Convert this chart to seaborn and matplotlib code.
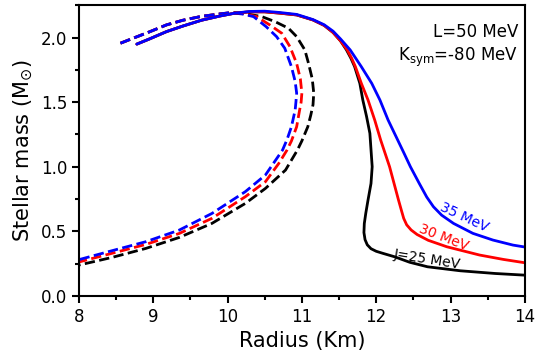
import numpy as np
import pandas as pd
import seaborn as sns
import matplotlib
matplotlib.use('Agg')
import matplotlib.pyplot as plt
from matplotlib.ticker import MultipleLocator

# solid curves (J = 25, 30, 35 MeV)
r_j25 = [8.78, 8.95, 9.18, 9.4, 9.65, 9.9, 10.1, 10.3, 10.5, 10.7, 10.93, 11.15, 11.3, 11.42,
         11.52, 11.6, 11.66, 11.71, 11.78, 11.82, 11.87, 11.915, 11.946, 11.93, 11.89, 11.86,
         11.84, 11.835, 11.85, 11.88, 11.93, 12.0, 12.09, 12.25, 12.45, 12.69, 13.13, 13.6, 14.0]
m_j25 = [1.95, 1.99, 2.047, 2.09, 2.135, 2.168, 2.19, 2.2, 2.2, 2.19, 2.176, 2.137, 2.095, 2.04,
         1.975, 1.905, 1.84, 1.775, 1.646, 1.517, 1.39, 1.259, 1.0, 0.87, 0.742, 0.64,
         0.56, 0.49, 0.435, 0.395, 0.365, 0.345, 0.329, 0.302, 0.26, 0.225, 0.194, 0.173, 0.16]

r_j30 = [8.78, 8.95, 9.18, 9.4, 9.65, 9.9, 10.1, 10.3, 10.5, 10.7, 10.93, 11.15, 11.3, 11.42,
         11.52, 11.61, 11.67, 11.72, 11.8, 11.89, 11.98, 12.06, 12.18, 12.3, 12.34, 12.37,
         12.41, 12.47, 12.55, 12.7, 12.95, 13.39, 13.71, 14.0]
m_j30 = [1.95, 1.99, 2.047, 2.09, 2.135, 2.168, 2.19, 2.2, 2.2, 2.19, 2.176, 2.137, 2.095, 2.04,
         1.975, 1.905, 1.84, 1.775, 1.646, 1.517, 1.362, 1.207, 1.0, 0.742, 0.66, 0.6,
         0.55, 0.51, 0.475, 0.43, 0.38, 0.316, 0.282, 0.256]

r_j35 = [8.78, 8.95, 9.18, 9.4, 9.65, 9.9, 10.1, 10.3, 10.5, 10.7, 10.93, 11.15, 11.3, 11.42,
         11.52, 11.65, 11.8, 11.94, 12.05, 12.16, 12.27, 12.37, 12.46, 12.58, 12.68, 12.77,
         12.88, 13.04, 13.3, 13.57, 13.84, 14.0]
m_j35 = [1.95, 1.99, 2.047, 2.09, 2.135, 2.168, 2.19, 2.203, 2.205, 2.195, 2.18, 2.14, 2.1, 2.05,
         1.99, 1.905, 1.775, 1.646, 1.517, 1.362, 1.23, 1.11, 1.0, 0.87, 0.765, 0.69,
         0.625, 0.561, 0.484, 0.432, 0.393, 0.378]

# dashed curves
rd_j25 = [8.56, 8.75, 8.95, 9.18, 9.4, 9.65, 9.9, 10.07, 10.25, 10.46, 10.64, 10.82, 10.93,
          11.04, 11.09, 11.14, 11.16, 11.15, 11.12, 11.08, 11.0, 10.94, 10.78, 10.51, 10.24,
          9.79, 9.35, 8.9, 8.45, 8.0]
md_j25 = [1.957, 2.0, 2.045, 2.099, 2.135, 2.165, 2.184, 2.194, 2.185, 2.163, 2.124, 2.073, 2.008,
          1.905, 1.80, 1.68, 1.57, 1.48, 1.40, 1.31, 1.2, 1.129, 0.974, 0.832, 0.716,
          0.561, 0.452, 0.367, 0.298, 0.238]

rd_j30 = [8.56, 8.75, 8.95, 9.18, 9.4, 9.65, 9.9, 10.05, 10.22, 10.39, 10.57, 10.73, 10.84,
          10.93, 10.98, 11.0, 10.99, 10.97, 10.93, 10.86, 10.80, 10.69, 10.51, 10.24, 9.79,
          9.35, 8.9, 8.45, 8.0]
md_j30 = [1.957, 2.0, 2.045, 2.099, 2.135, 2.165, 2.184, 2.194, 2.185, 2.163, 2.098, 2.034, 1.93,
          1.80, 1.68, 1.57, 1.50, 1.44, 1.31, 1.2, 1.129, 1.026, 0.884, 0.768, 0.60,
          0.483, 0.398, 0.33, 0.262]

rd_j35 = [8.56, 8.75, 8.95, 9.18, 9.4, 9.65, 9.9, 10.03, 10.2, 10.35, 10.52, 10.66, 10.77,
          10.86, 10.91, 10.93, 10.92, 10.91, 10.86, 10.80, 10.74, 10.51, 10.24, 9.79, 9.35,
          8.9, 8.45, 8.0]
md_j35 = [1.957, 2.0, 2.045, 2.099, 2.135, 2.165, 2.184, 2.194, 2.183, 2.163, 2.085, 2.008, 1.918,
          1.775, 1.66, 1.57, 1.50, 1.44, 1.31, 1.21, 1.129, 0.936, 0.807, 0.638, 0.509,
          0.419, 0.35, 0.28]

labels = ['J=25 MeV', '30 MeV', '35 MeV']
colors = ['black', 'red', 'blue']

sns.set_style('ticks')
plt.rcParams['font.family'] = ['DejaVu Sans']
for k in ['text.color', 'axes.labelcolor', 'xtick.color', 'ytick.color', 'axes.edgecolor']:
    plt.rcParams[k] = 'black'

fig = plt.figure(figsize=(5.4, 3.59), dpi=100)
ax = fig.add_subplot(111)
fig.subplots_adjust(left=0.146, right=0.972, bottom=0.176, top=0.985)

dashed = [(rd_j25, md_j25), (rd_j30, md_j30), (rd_j35, md_j35)]
solid = [(r_j25, m_j25), (r_j30, m_j30), (r_j35, m_j35)]

for (r, m), c in zip(dashed, colors):
    sns.lineplot(x=r, y=m, sort=False, estimator=None, color=c, linestyle='--', lw=2, ax=ax)
for (r, m), c in zip(solid, colors):
    sns.lineplot(x=r, y=m, sort=False, estimator=None, color=c, lw=2, ax=ax)

# curve labels
ax.text(12.69, 0.285, labels[0], color='black', fontsize=10, rotation=-9, ha='center', va='center')
ax.text(12.91, 0.455, labels[1], color='red', fontsize=10, rotation=-21, ha='center', va='center')
ax.text(13.19, 0.61, labels[2], color='blue', fontsize=10, rotation=-25, ha='center', va='center')

ax.text(0.985, 0.908, 'L=50 MeV', transform=ax.transAxes, ha='right', va='center', fontsize=12)
ax.text(0.985, 0.822, r'K$_{\rm sym}$=-80 MeV', transform=ax.transAxes, ha='right', va='center', fontsize=12)

ax.set_xlim(8, 14)
ax.set_ylim(0, 2.25)
ax.xaxis.set_major_locator(MultipleLocator(1))
ax.xaxis.set_minor_locator(MultipleLocator(0.5))
ax.yaxis.set_major_locator(MultipleLocator(0.5))
ax.yaxis.set_minor_locator(MultipleLocator(0.25))
ax.tick_params(which='major', direction='out', length=5, width=1.5, labelsize=12)
ax.tick_params(which='minor', direction='out', length=3, width=1.5)
for s in ax.spines.values():
    s.set_linewidth(1.5)
    s.set_visible(True)

ax.set_xlabel('Radius (Km)', fontsize=15)
ax.set_ylabel(r'Stellar mass (M$_{\odot}$)', fontsize=15)

fig.savefig('out.png', dpi=100)
